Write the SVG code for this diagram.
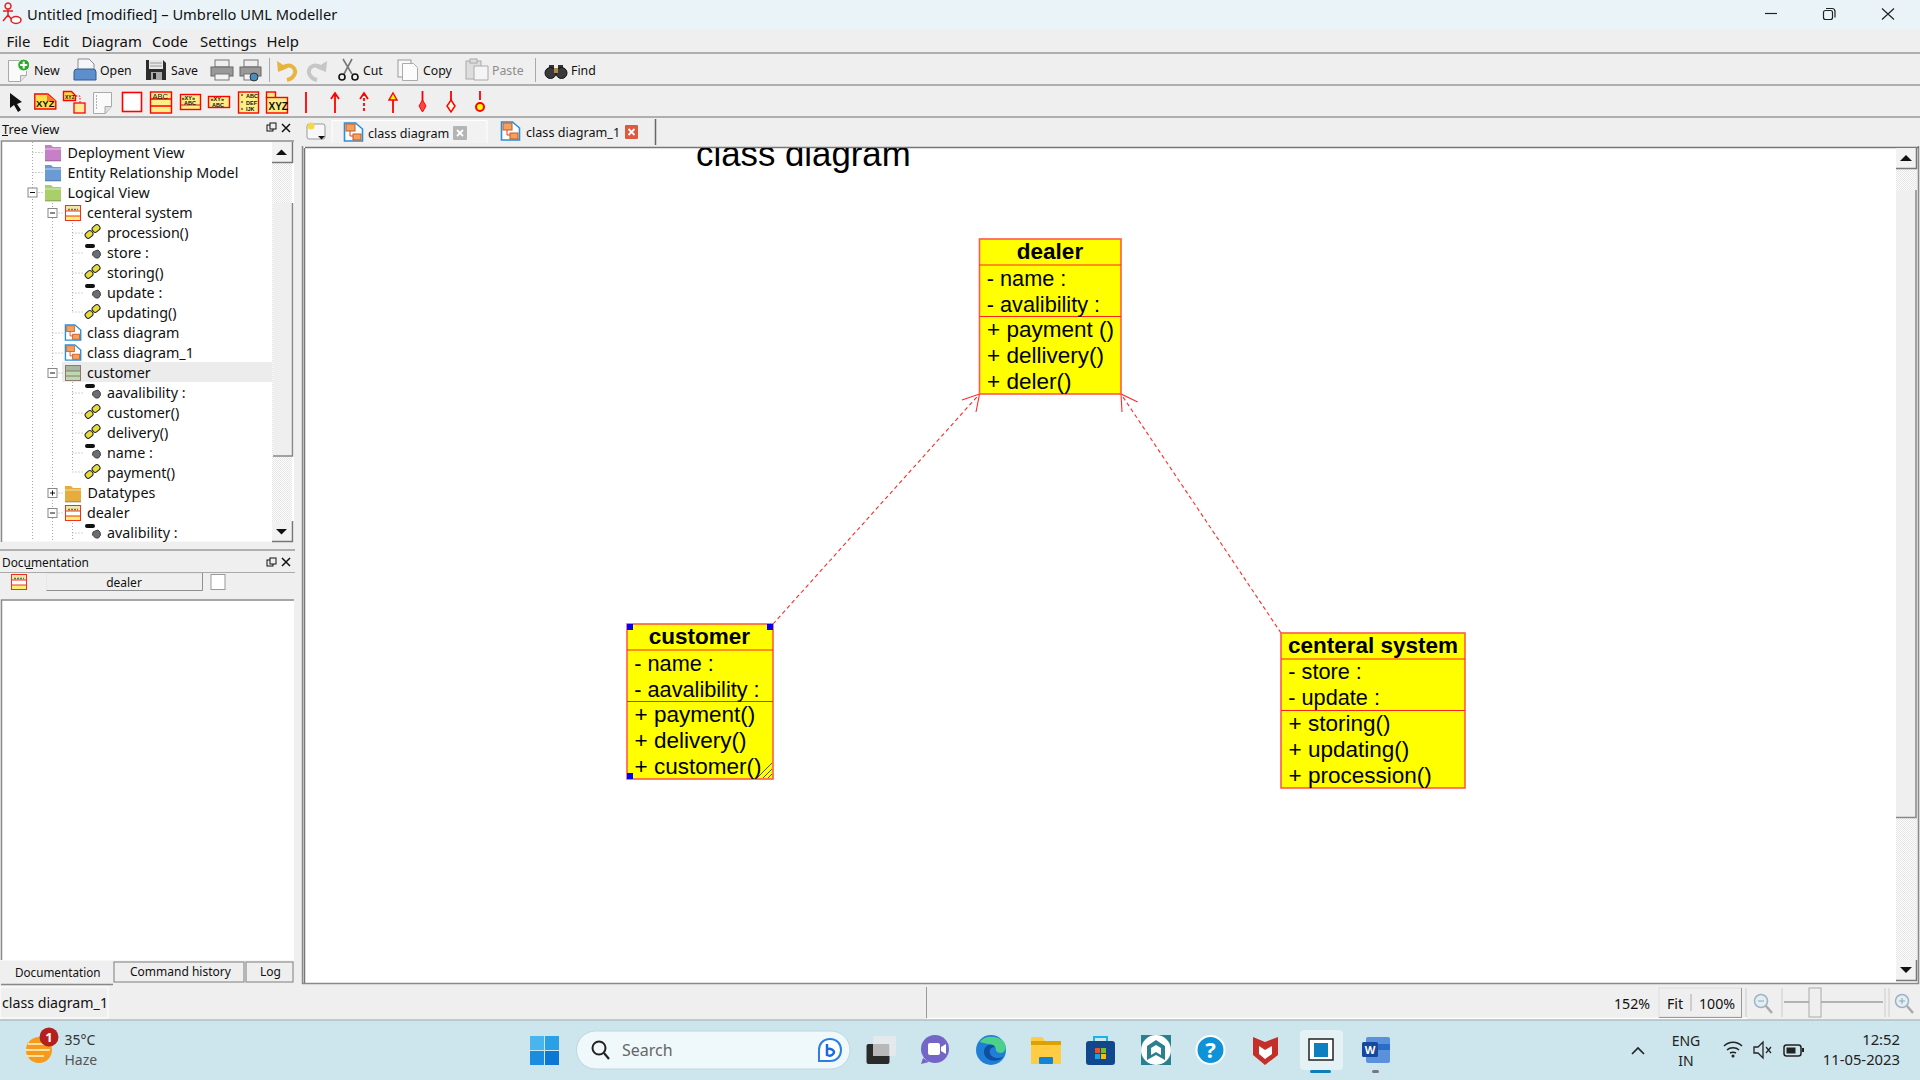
<svg xmlns="http://www.w3.org/2000/svg" xmlns:xlink="http://www.w3.org/1999/xlink" width="1920" height="1080" viewBox="0 0 1920 1080">
<style>
text{font-family:"Noto Sans","Open Sans","Liberation Sans",sans-serif;fill:#111;white-space:pre}
.m{font-size:14.900px}.tb{font-size:12.300px}.tr{font-size:14.300px}.sm{font-size:12px}.dis{fill:#8d8d8d}
.ln{stroke:#9a9a9a;stroke-width:1.500;fill:none}
.dot{stroke:#a8a8a8;stroke-width:1;stroke-dasharray:1 2;fill:none}
.ic{stroke:#f00;stroke-width:1.600;fill:#fff}
.ict{font-family:"Liberation Sans",sans-serif;font-weight:700;fill:#111}
.uml{font-family:"Liberation Sans",Arial,sans-serif;fill:#000}
.tt{font-size:22.500px;font-weight:700;text-anchor:middle}.at{font-size:21.700px}.op{font-size:22.500px}
.box{fill:#ff0;stroke:#ff5a4a;stroke-width:1.600}
.sep{stroke:#f22;stroke-width:1.200}
.h{fill:#00f}
.con{stroke:#ff2a2a;stroke-width:1.100;fill:none}
.btn{fill:#efefef;stroke:#8f8f8f;stroke-width:1.200}
.tray{font-size:15px;fill:#222}
</style>
<defs>
<pattern id="trough" width="2" height="2" patternUnits="userSpaceOnUse"><rect width="2" height="2" fill="#fff"/><rect width="1" height="1" fill="#e4e4e4"/><rect x="1" y="1" width="1" height="1" fill="#e4e4e4"/></pattern>
<g id="fold"><path d="M0 1h6l2 2h8v14H0z" fill="currentColor"/><path d="M0 5h16" stroke="#fff" stroke-opacity=".6"/><path d="M0 17h16" stroke="#000" stroke-opacity=".3"/></g>
<g id="cls"><rect x=".5" y=".5" width="15" height="15" fill="#fff" stroke="#f03020"/><rect x="1" y="1" width="14" height="5" fill="#f4e6a8"/><rect x="1" y="11" width="14" height="4" fill="#fff070"/><path d="M1 6h14M1 11h14" stroke="#f03020"/><path d="M3 4.500h10" stroke="#5a7a50" stroke-width="1.500" stroke-dasharray="2 1"/></g>
<g id="op"><rect x="0" y="-3" width="8" height="6" rx="2.500" transform="translate(1 13) rotate(-40)" fill="#e8dc3c" stroke="#222"/><rect x="0" y="-3" width="8" height="6" rx="2.500" transform="translate(8 7) rotate(-40)" fill="#e8dc3c" stroke="#222"/></g>
<g id="att"><rect x="0" y="0" width="10" height="4" rx="2" fill="#111"/><path d="M10 7l3-1 2 2 .5 3-2 3h-3l-3-3 .5-3z" fill="#6c6c74" stroke="#444"/></g>
<g id="dia"><path d="M.5 1h11l7 6v12H.5z" fill="#fff" stroke="#2a8fd8" stroke-width="1.600"/><rect x="2" y="2" width="9" height="7" fill="#f4a060" stroke="#c85a20"/><rect x="9" y="12" width="8" height="6" fill="#f4a060" stroke="#c85a20"/><path d="M6 9v5h3" stroke="#e04020" fill="none"/></g>
<g id="minus"><rect x="-4.500" y="-4.500" width="9" height="9" fill="#fff" stroke="#888"/><path d="M-2.500 0h5" stroke="#111"/></g>
<g id="plus"><rect x="-4.500" y="-4.500" width="9" height="9" fill="#fff" stroke="#888"/><path d="M-2.500 0h5M0-2.500v5" stroke="#111"/></g>
<g id="page"><path d="M.5.5h18v15l-6 6H.5z" fill="#fafafa" stroke="#aaa"/><path d="M12.500 21.500v-6h6" fill="#e4e4e4" stroke="#aaa"/></g>
<g id="btnv"><rect x="0" y="0" width="20" height="20" fill="#f2f2f2"/><path d="M0 20.500h20.500V0" fill="none" stroke="#777" stroke-width="1.500"/></g>
</defs>

<rect width="1920" height="1080" fill="#efefef"/>
<rect width="1920" height="29" fill="#eaf4f8"/>
<path d="M8 3a3 3 0 1 0 .1 0zM8 9v6M3 11h10M8 15l-5 6M8 15l5 6" stroke="#e02020" stroke-width="1.500" fill="none"/><ellipse cx="16" cy="20" rx="5" ry="3.400" fill="#fff" stroke="#e02020" stroke-width="1.500"/>
<text x="27" y="20" style="font-size:14.700px">Untitled [modified] – Umbrello UML Modeller</text>
<path d="M1765 13.500h12" stroke="#222" stroke-width="1.200"/><rect x="1823.500" y="10.500" width="9" height="9" rx="2" fill="none" stroke="#222" stroke-width="1.200"/><path d="M1826 8.500h6a3 3 0 0 1 3 3v6" fill="none" stroke="#222" stroke-width="1.200"/><path d="M1882 8.500l12 11M1894 8.500l-12 11" stroke="#222" stroke-width="1.200"/>

<text class="m" x="6.500" y="47">File</text><text class="m" x="42.500" y="47">Edit</text><text class="m" x="81.500" y="47">Diagram</text><text class="m" x="152" y="47">Code</text><text class="m" x="200" y="47">Settings</text><text class="m" x="266.500" y="47">Help</text>
<path class="ln" d="M0 53h1920M0 85h1920M0 117h1920"/>

<!-- toolbar 1 -->
<use xlink:href="#page" href="#page" x="8" y="60"/><circle cx="23.700" cy="65" r="6" fill="#2ea82e" stroke="#fff"/><path d="M23.700 61.500v7M20.200 65h7" stroke="#fff" stroke-width="2"/>
<text class="tb" x="34" y="75">New</text>
<path d="M78 59h11l5 5v8H78z" fill="#f6f6f6" stroke="#889"/><path d="M74 72q0-3 3-3h16q3 0 3 3v8H74z" fill="#5d8fcb" stroke="#2d5d98"/>
<text class="tb" x="100" y="75">Open</text>
<path d="M146 60h17l3 3v17h-20z" fill="#2c2c2c"/><rect x="149" y="60" width="14" height="9" fill="#e8e8e8"/><path d="M150 63h12M150 66h12" stroke="#999"/><rect x="151" y="72" width="11" height="8" fill="#aaa"/><rect x="153" y="73" width="3" height="6" fill="#222"/>
<text class="tb" x="171" y="75">Save</text>
<rect x="215" y="60" width="14" height="7" fill="#eee" stroke="#777"/><rect x="211" y="67" width="22" height="9" fill="#999" stroke="#666"/><rect x="215" y="74" width="14" height="6" fill="#f4f4f4" stroke="#777"/>
<rect x="244" y="60" width="14" height="7" fill="#eee" stroke="#777"/><rect x="240" y="67" width="21" height="9" fill="#999" stroke="#666"/><rect x="244" y="74" width="10" height="6" fill="#f4f4f4" stroke="#777"/><circle cx="254" cy="77" r="4" fill="#4a8ec0" stroke="#333"/>
<path d="M269.500 58v24" stroke="#aaa"/>
<path d="M282 68c8-6 14 0 13 5-1 4-4 6-8 7" fill="none" stroke="#e8b440" stroke-width="4"/><path d="M277 61l1 11 10-4z" fill="#e8b440"/>
<path d="M322 68c-8-6-14 0-13 5 1 4 4 6 8 7" fill="none" stroke="#c6c6c6" stroke-width="4"/><path d="M327 61l-1 11-10-4z" fill="#c6c6c6"/>
<path d="M343 59l9 15M352 59l-8 15" stroke="#777" stroke-width="1.600"/><circle cx="342" cy="77" r="3" fill="none" stroke="#111" stroke-width="1.600"/><circle cx="355" cy="77" r="3" fill="none" stroke="#111" stroke-width="1.600"/>
<text class="tb" x="363" y="75">Cut</text>
<rect x="398" y="60" width="13" height="17" fill="#f8f8f8" stroke="#999"/><path d="M402.500 63.500h11l4 4v13h-15z" fill="#fcfcfc" stroke="#aaa"/>
<text class="tb" x="423" y="75">Copy</text>
<rect x="466" y="61" width="15" height="18" fill="#ddd" stroke="#aaa"/><rect x="470" y="59" width="7" height="4" fill="#ddd" stroke="#aaa"/><path d="M474 66h14v14h-14z" fill="#f4f4f4" stroke="#aaa"/>
<text class="tb dis" x="492" y="75">Paste</text>
<path d="M535.500 58v24" stroke="#aaa"/>
<rect x="549" y="65" width="5" height="6" fill="#333"/><rect x="558" y="65" width="5" height="6" fill="#333"/><circle cx="550.500" cy="73" r="5.500" fill="#3a3a3a" stroke="#111"/><circle cx="561.500" cy="73" r="5.500" fill="#3a3a3a" stroke="#111"/><rect x="554" y="68" width="4" height="5" fill="#b08a50"/>
<text class="tb" x="571" y="75">Find</text>

<!-- toolbar 2 -->
<path d="M10 93l0 15 4-3 4 7 3-2-4-6 5-2z" fill="#111"/>
<path d="M34.800 94h13l8 7v8H34.800z" fill="#fbe04a" stroke="#f00" stroke-width="1.400"/><path d="M47 94l9 7h-9z" fill="#f28030"/><text class="ict" x="36" y="107" style="font-size:9.500px">XYZ</text>
<path d="M63.500 91.500h8l4 4v5h-12z" fill="#fbd74a" stroke="#f00" stroke-width="1.300"/><rect x="74" y="103" width="11" height="10" fill="#ffe99a" stroke="#f00" stroke-width="1.300"/><path d="M76 96h4v7" stroke="#f00" stroke-dasharray="1.500 1.500" fill="none"/><text class="ict" x="65" y="99" style="font-size:5px">XYZ</text>
<path d="M93.500 92.500h18v14l-6 7h-12z" fill="#fafafa" stroke="#aaa"/><path d="M96 96h1M96 99h1M96 102h1M96 105h1M96 108h1" stroke="#667"/><path d="M105 113.500v-7h6.500" fill="#ddd" stroke="#aaa"/>
<rect class="ic" x="122.500" y="92.500" width="19" height="19"/>
<rect x="150.500" y="92" width="21" height="21" fill="#ffee88" stroke="#f00" stroke-width="1.400"/><path d="M150 99h22M150 106h22" stroke="#f00" stroke-width="1.400"/><text x="152.500" y="98.500" style="font-size:7.500px;font-family:'Liberation Sans',sans-serif">ABC</text>
<rect x="180.500" y="94.500" width="20" height="15" fill="#ffee88" stroke="#f00" stroke-width="1.400"/><path d="M180 105h21" stroke="#f00"/><text class="ict" x="181.500" y="100" style="font-size:5.500px">«XY»</text><text class="ict" x="184" y="104.500" style="font-size:5.500px">ABC</text>
<rect x="208.500" y="96.500" width="21" height="11" fill="#ffee88" stroke="#f00" stroke-width="1.400"/><text class="ict" x="210.500" y="101" style="font-size:5.500px">«XY»</text><text class="ict" x="212" y="106.500" style="font-size:5.500px">ABC</text>
<rect x="238.500" y="92" width="20" height="21" fill="#ffee88" stroke="#f00" stroke-width="1.400"/><path d="M241 95h2M241 102h2M241 109h2" stroke="#111"/><text class="ict" x="246" y="98" style="font-size:5.500px">ABC</text><text class="ict" x="246" y="104.500" style="font-size:5.500px">DEF</text><text class="ict" x="246" y="111" style="font-size:5.500px">IJK</text>
<rect x="266.500" y="92" width="9" height="6" fill="#ffee88" stroke="#f00" stroke-width="1.400"/><rect x="266.500" y="97.500" width="21" height="15.500" fill="#ffee88" stroke="#f00" stroke-width="1.400"/><text class="ict" x="268.500" y="110" style="font-size:10px">XYZ</text>
<g stroke="#f00" stroke-width="1.800" fill="none"><path d="M306 92v21"/><path d="M335 93v20M331 99l4-6 4 6"/><path d="M364 93v20" stroke-dasharray="3 2"/><path d="M360 99l4-6 4 6"/><path d="M393 100v13"/><path d="M422.500 91v10M451 91v10M480 91v9"/></g>
<path d="M393 93l4 7h-8z" fill="#ff0" stroke="#f00" stroke-width="1.400"/><path d="M422.500 100l3.500 6-3.500 6-3.500-6z" fill="#f44" stroke="#f00"/><path d="M451 100l4 6-4 6-4-6z" fill="#ffd" stroke="#f00" stroke-width="1.500"/><circle cx="480" cy="107" r="4" fill="#ff0" stroke="#f00" stroke-width="2"/>

<!-- tree view -->
<text x="2" y="134" style="font-size:12.800px">Tree View</text><path d="M2 135.500h6" stroke="#111"/>
<rect x="267" y="125" width="6" height="6" fill="none" stroke="#111"/><rect x="270" y="123" width="6" height="6" fill="#efefef" stroke="#111"/><path d="M282 124l8 8M290 124l-8 8" stroke="#111" stroke-width="1.500"/>
<rect x="1" y="140.500" width="293" height="401" fill="#fff"/>
<path d="M1.500 542V141H294" fill="none" stroke="#8a8a8a" stroke-width="1.500"/>
<rect x="272" y="142" width="20" height="399" fill="url(#trough)"/>
<rect x="273" y="203" width="19" height="253" fill="#efefef"/><path d="M273 456h19.500V203" fill="none" stroke="#888" stroke-width="1.500"/>
<use xlink:href="#btnv" href="#btnv" x="272" y="142"/><path d="M276 155l5.500-5.500 5.500 5.500z" fill="#111"/>
<use xlink:href="#btnv" href="#btnv" x="272" y="521"/><path d="M276 529l5.500 5.500 5.500-5.500z" fill="#111"/>
<rect x="62" y="362" width="210" height="20" fill="#ececec"/>
<path class="dot" d="M32.500 142V540M32.500 152.500H44M32.500 172.500H44M32.500 192.500H44M52.500 203V540M52.500 213H64M52.500 333H64M52.500 353H64M52.500 373H64M52.500 493H64M52.500 513H64M72.500 223V312M72.500 233H84M72.500 253H84M72.500 273H84M72.500 293H84M72.500 312H84M72.500 382V472M72.500 393H84M72.500 413H84M72.500 433H84M72.500 453H84M72.500 472H84M72.500 523V540M72.500 533H84"/>
<use xlink:href="#fold" href="#fold" x="45" y="144" color="#c77fc7"/><use xlink:href="#fold" href="#fold" x="45" y="164" color="#6a9bd4"/><use xlink:href="#fold" href="#fold" x="45" y="184" color="#a9cf6a"/>
<use xlink:href="#minus" href="#minus" x="32.500" y="192.500"/><use xlink:href="#minus" href="#minus" x="52.500" y="213"/><use xlink:href="#minus" href="#minus" x="52.500" y="373"/><use xlink:href="#plus" href="#plus" x="52.500" y="493"/><use xlink:href="#minus" href="#minus" x="52.500" y="513"/>
<use xlink:href="#cls" href="#cls" x="65" y="205"/>
<use xlink:href="#dia" href="#dia" transform="translate(65 324) scale(.85)"/><use xlink:href="#dia" href="#dia" transform="translate(65 344) scale(.85)"/>
<g transform="translate(65 365)"><rect x=".5" y=".5" width="15" height="15" fill="#bcd9b0" stroke="#8a7a70"/><rect x="1" y="1" width="14" height="5" fill="#a8b8a0"/><path d="M1 6h14M1 11h14" stroke="#8a7a70"/></g>
<use xlink:href="#fold" href="#fold" x="65" y="485" color="#e6ac3c"/><use xlink:href="#cls" href="#cls" x="65" y="505"/>
<use xlink:href="#op" href="#op" x="85" y="224"/><use xlink:href="#att" href="#att" x="85" y="244"/><use xlink:href="#op" href="#op" x="85" y="264"/><use xlink:href="#att" href="#att" x="85" y="284"/><use xlink:href="#op" href="#op" x="85" y="304"/>
<use xlink:href="#att" href="#att" x="85" y="384"/><use xlink:href="#op" href="#op" x="85" y="404"/><use xlink:href="#op" href="#op" x="85" y="424"/><use xlink:href="#att" href="#att" x="85" y="444"/><use xlink:href="#op" href="#op" x="85" y="464"/><use xlink:href="#att" href="#att" x="85" y="524"/>
<text class="tr" x="67.500" y="158">Deployment View</text><text class="tr" x="67.500" y="178">Entity Relationship Model</text><text class="tr" x="67.500" y="198">Logical View</text>
<text class="tr" x="87" y="218">centeral system</text><text class="tr" x="107" y="238">procession()</text><text class="tr" x="107" y="258">store :</text><text class="tr" x="107" y="278">storing()</text><text class="tr" x="107" y="298">update :</text><text class="tr" x="107" y="318">updating()</text>
<text class="tr" x="87" y="338">class diagram</text><text class="tr" x="87" y="358">class diagram_1</text><text class="tr" x="87" y="378">customer</text>
<text class="tr" x="107" y="398">aavalibility :</text><text class="tr" x="107" y="418">customer()</text><text class="tr" x="107" y="438">delivery()</text><text class="tr" x="107" y="458">name :</text><text class="tr" x="107" y="478">payment()</text>
<text class="tr" x="87.500" y="498">Datatypes</text><text class="tr" x="87" y="518">dealer</text><text class="tr" x="107" y="538">avalibility :</text>

<!-- documentation -->
<path class="ln" d="M0 550h295"/><path d="M0 572.500h295" stroke="#aaa"/>
<text x="2" y="567" style="font-size:11.900px">Documentation</text><path d="M26 568.500h7" stroke="#111"/>
<rect x="267" y="560" width="6" height="6" fill="none" stroke="#111"/><rect x="270" y="558" width="6" height="6" fill="#efefef" stroke="#111"/><path d="M282 558l8 8M290 558l-8 8" stroke="#111" stroke-width="1.500"/>
<use xlink:href="#cls" href="#cls" x="11" y="574"/>
<rect x="46" y="573" width="156" height="17" fill="#efefef"/><path d="M46.500 590V573.500H202" fill="none" stroke="#e8e8e8"/><path d="M46.500 590.500h156V573" fill="none" stroke="#8f8f8f"/><text class="sm" x="124" y="587" text-anchor="middle">dealer</text>
<rect x="211" y="574.500" width="14" height="15" fill="#fff" stroke="#999"/>
<rect x="1" y="599.500" width="293" height="361" fill="#fff"/>
<path d="M1.500 960V600H294" fill="none" stroke="#8a8a8a" stroke-width="1.500"/>
<path d="M1 962h112v22H1z" fill="#efefef"/><path d="M1 984.500h112" stroke="#888" stroke-width="1.500"/>
<rect x="114" y="962" width="130" height="20" class="btn"/><rect x="246" y="962" width="47" height="20" class="btn"/>
<text x="15" y="977" style="font-size:11.700px">Documentation</text><text x="130" y="976" style="font-size:12px">Command history</text><text x="260" y="976" style="font-size:12px">Log</text>

<!-- tabs -->
<rect x="307" y="124" width="18" height="15" rx="2" fill="#f8f8f8" stroke="#999"/><circle cx="311" cy="126" r="3.500" fill="#f4d84a"/><path d="M318 136h7l-3.500 3.500z" fill="#111"/>
<path d="M332 143v-22.500h155V143" fill="#f2f2f2" stroke="#fff"/>
<use xlink:href="#dia" href="#dia" x="344" y="122"/><text x="368" y="138" style="font-size:12.600px">class diagram</text><rect x="453" y="126" width="14" height="14" rx="1" fill="#b4b4b4"/><path d="M457 130l6 6M463 130l-6 6" stroke="#fff" stroke-width="1.800"/>
<use xlink:href="#dia" href="#dia" x="501" y="121"/><text x="526" y="137" style="font-size:12.600px">class diagram_1</text><rect x="625" y="125" width="13" height="14" rx="1" fill="#dd5a40"/><path d="M628.500 129l6 6M634.500 129l-6 6" stroke="#fff" stroke-width="1.800"/>
<path d="M655.500 119v26" stroke="#666" stroke-width="1.500"/>

<!-- canvas -->
<rect x="304" y="147" width="1612" height="836" fill="#fff"/>
<path d="M302.500 146v838M302 983.500h1617M1918.500 146v838" fill="none" stroke="#8a8a8a" stroke-width="1.500"/>
<path d="M305 147.500h1614M304.500 148v835" stroke="#777" fill="none" stroke-width="1.500"/>
<rect x="1896" y="148" width="20" height="833" fill="url(#trough)"/>
<rect x="1896" y="190.500" width="20" height="627" fill="#efefef"/><path d="M1896 817.500h20V190" fill="none" stroke="#888" stroke-width="1.500"/>
<use xlink:href="#btnv" href="#btnv" x="1896" y="148"/><path d="M1900 161l6-6 6 6z" fill="#111"/>
<use xlink:href="#btnv" href="#btnv" x="1896" y="960"/><path d="M1900 967l6 6 6-6z" fill="#111"/>
<clipPath id="cv"><rect x="304" y="148" width="1592" height="835"/></clipPath>
<text class="uml" clip-path="url(#cv)" x="696" y="166" style="font-size:34.800px">class diagram</text>

<g id="connectors">
<path class="con" stroke-dasharray="4 3" d="M773 624L979.500 394"/>
<path class="con" stroke-dasharray="4 3" d="M1281 633L1121 394"/>
<path class="con" d="M962 400L979.500 394L976 412"/>
<path class="con" d="M1137.700 402L1121 394L1122 412"/>
</g>

<g id="dealer">
<rect class="box" x="979.500" y="239" width="141.500" height="155"/>
<path class="sep" d="M979.500 265h141.500M979.500 316.500h141.500"/>
<text class="uml tt" x="1050" y="259">dealer</text>
<text class="uml at" x="986.800" y="285.500">- name :</text><text class="uml at" x="986.800" y="311.500">- avalibility :</text>
<text class="uml op" x="987" y="337">+ payment ()</text><text class="uml op" x="987" y="363">+ dellivery()</text><text class="uml op" x="987" y="389">+ deler()</text>
</g>
<g id="customer">
<rect class="box" x="627" y="624" width="146" height="155"/>
<path class="sep" d="M627 650h146M627 701.500h146"/>
<text class="uml tt" x="699.500" y="644">customer</text>
<text class="uml at" x="634.300" y="670.500">- name :</text><text class="uml at" x="634.300" y="696.500">- aavalibility :</text>
<text class="uml op" x="634.500" y="722">+ payment()</text><text class="uml op" x="634.500" y="748">+ delivery()</text><text class="uml op" x="634.500" y="773.500">+ customer()</text>
<path d="M757 778l15-15M763 778l9-9M768 778l4-4" stroke="#222" stroke-width=".8" fill="none"/>
<rect class="h" x="627" y="624" width="6" height="6"/><rect class="h" x="767" y="624" width="6" height="6"/><rect class="h" x="627" y="773" width="6" height="6"/>
</g>
<g id="centeral_system">
<rect class="box" x="1281" y="633" width="184" height="155"/>
<path class="sep" d="M1281 659h184M1281 710.500h184"/>
<text class="uml tt" x="1373" y="653">centeral system</text>
<text class="uml at" x="1288.300" y="679">- store :</text><text class="uml at" x="1288.300" y="705">- update :</text>
<text class="uml op" x="1288.500" y="731">+ storing()</text><text class="uml op" x="1288.500" y="757">+ updating()</text><text class="uml op" x="1288.500" y="783">+ procession()</text>
</g>

<!-- status bar -->
<rect x="0" y="987" width="108" height="31" fill="#efefef" stroke="#fff"/>
<text x="2" y="1008" style="font-size:14.200px">class diagram_1</text>
<path d="M926.500 987v31" stroke="#999"/><path d="M927 1018.500h820" stroke="#fff" stroke-width="1.500"/>
<text x="1614" y="1009" style="font-size:14.200px">152%</text>
<rect x="1659" y="988" width="82.500" height="29" fill="#efefef" stroke="#ddd"/><path d="M1691 994v17" stroke="#aaa"/><path d="M1659 1017.500h83M1741.500 988v30" stroke="#999"/>
<text x="1667" y="1009" style="font-size:14.200px">Fit</text><text x="1699" y="1009" style="font-size:14.200px">100%</text>
<path d="M1746 988v29M1782 988v29M1885 988v29M1889 988v29" stroke="#ccc"/>
<g fill="#e4edf4" stroke="#9fb2c5" stroke-width="1.500"><circle cx="1761" cy="1001" r="6.500"/><circle cx="1902" cy="1001" r="6.500"/></g>
<path d="M1766 1006l6 7M1907 1006l6 7" stroke="#aaa" stroke-width="2.500"/><path d="M1758 1001h6M1899 1001h6M1902 998v6" stroke="#8aa"/>
<path d="M1784 1002h25M1821 1002h62" stroke="#777" stroke-width="1.200"/><rect x="1809" y="988" width="12" height="29" fill="#efefef" stroke="#aaa"/>

<!-- taskbar -->
<rect y="1020" width="1920" height="60" fill="#cde6ed"/><path d="M0 1020h1920" stroke="#aebfc5" stroke-width="1.500"/>
<circle cx="39" cy="1050" r="13" fill="#f59a1a"/><path d="M26 1050h24M28 1044h20M26 1056h18" stroke="#ffe0a0" stroke-width="2"/>
<circle cx="49" cy="1037" r="9.500" fill="#b3201f"/><text x="49" y="1042" text-anchor="middle" style="font-size:13px;font-weight:700;fill:#fff">1</text>
<text x="64.500" y="1045" style="font-size:14px;fill:#333">35°C</text><text x="64.500" y="1065" style="font-size:14px;fill:#555">Haze</text>
<g><rect x="530" y="1036" width="14" height="14" fill="#48b5ee"/><rect x="545" y="1036" width="14" height="14" fill="#2aa0e6"/><rect x="530" y="1051" width="14" height="14" fill="#1a8de0"/><rect x="545" y="1051" width="14" height="14" fill="#0a78d4"/></g>
<rect x="576.500" y="1031" width="273.500" height="38" rx="19" fill="#eff8fb" stroke="#bfd6dc"/>
<circle cx="599" cy="1048" r="6.500" fill="none" stroke="#222" stroke-width="2"/><path d="M604 1053l5 6" stroke="#222" stroke-width="2.200"/>
<text x="622" y="1056" style="font-size:16px;fill:#666">Search</text>
<path d="M830 1039c7 0 11 5 11 11s-4 11-11 11h-11v-11c0-6 4-11 11-11z" fill="#fff" stroke="#2a7fe0" stroke-width="2"/><path d="M827 1044v11c4 2 7-1 7-3s-4-4-6-3" stroke="#1a6adf" stroke-width="2.500" fill="none"/>
<rect x="866.500" y="1044" width="23" height="20" rx="2" fill="#2a2a2a"/><rect x="873" y="1036" width="23" height="20" rx="2" fill="#e8eaea" fill-opacity=".85"/><rect x="873" y="1044" width="16" height="12" fill="#b8b8b8"/>
<circle cx="935" cy="1049" r="14" fill="#7466c6"/><path d="M923 1058l-2 6 8-2z" fill="#7466c6"/><rect x="928" y="1043" width="12" height="12" rx="2" fill="#fff"/><path d="M941 1047l5-3v10l-5-3z" fill="#fff"/>
<circle cx="991" cy="1050" r="15" fill="#1f7fd6"/><path d="M980 1042c4-7 18-7 24 0 3 4 2 10-3 11-4 0-6-3-5-5-3-4-10-4-16-6z" fill="#4cd08c"/><path d="M984 1052c0-7 8-10 11-5-4 0-6 3-5 6 1 5 8 6 13 4-4 6-19 5-19-5z" fill="#0f4fa0"/>
<path d="M1031 1037h11l3 4h16v23h-30z" fill="#ffcc44"/><path d="M1031 1041h30v4h-30z" fill="#dda200"/><rect x="1039" y="1057" width="14" height="7" rx="1" fill="#1484d6"/>
<rect x="1086" y="1041" width="29" height="24" rx="3" fill="#11478c"/><path d="M1094 1041v-4h13v4" fill="none" stroke="#1ab4e8" stroke-width="2"/><rect x="1095" y="1048" width="5" height="5" fill="#e8502a"/><rect x="1101" y="1048" width="5" height="5" fill="#7fba28"/><rect x="1095" y="1054" width="5" height="5" fill="#1ca0e8"/><rect x="1101" y="1054" width="5" height="5" fill="#fdb812"/>
<rect x="1141" y="1035" width="30" height="30" fill="#2b8090"/><ellipse cx="1156" cy="1050" rx="15" ry="15" fill="#fff"/><path d="M1156 1040l9 6v14l-9-5-9 5v-14z" fill="#2b8090"/><path d="M1156 1045l5 3v7l-5-3-5 3v-7z" fill="#fff"/>
<circle cx="1210.500" cy="1050" r="14" fill="#0f93d8" stroke="#fff" stroke-width="2"/><text x="1210.500" y="1058" text-anchor="middle" style="font-size:22px;font-weight:700;fill:#fff">?</text>
<path d="M1253 1037l12 5 13-5v18l-13 10-12-10z" fill="#c3302a"/><path d="M1259 1046l6 4 7-4v8l-7 5-6-5z" fill="#fff"/>
<rect x="1300" y="1030" width="43" height="40" rx="4" fill="#e4f1f5"/>
<rect x="1309" y="1039" width="24" height="21" fill="#fff" stroke="#222" stroke-width="1.500"/><rect x="1314" y="1043" width="14" height="14" fill="#0f7fc0"/>
<rect x="1310" y="1070" width="21" height="3" rx="1.500" fill="#0d7fb8"/>
<g transform="translate(3 0)"><rect x="1363" y="1037" width="24" height="26" rx="2" fill="#5a90dc"/><rect x="1363" y="1044" width="24" height="6" fill="#2b6cc4"/><rect x="1359" y="1042" width="16" height="15" rx="1.500" fill="#16489e"/><text x="1367" y="1054" text-anchor="middle" style="font-size:11px;font-weight:700;fill:#fff">W</text></g>
<rect x="1372" y="1070" width="7" height="3" rx="1.500" fill="#778"/>
<path d="M1632 1054l6-6 6 6" fill="none" stroke="#222" stroke-width="1.600"/>
<text class="tray" x="1686" y="1046" text-anchor="middle" style="font-size:14px">ENG</text><text class="tray" x="1686" y="1066" text-anchor="middle" style="font-size:14px">IN</text>
<path d="M1724 1046c5-5 13-5 18 0M1727 1050c3-3 9-3 12 0M1730 1053c2-1 4-1 6 0" fill="none" stroke="#222" stroke-width="1.500"/><circle cx="1733" cy="1056" r="1.500" fill="#222"/>
<path d="M1754 1047h4l5-5v16l-5-5h-4z" fill="none" stroke="#222" stroke-width="1.300"/><path d="M1766 1047l5 6M1771 1047l-5 6" stroke="#222" stroke-width="1.200"/>
<rect x="1784" y="1045" width="17" height="11" rx="2.500" fill="none" stroke="#222" stroke-width="1.500"/><rect x="1786.500" y="1047.500" width="9" height="6" fill="#222"/><rect x="1802" y="1048" width="2" height="4" fill="#222"/>
<text class="tray" x="1900" y="1045" text-anchor="end" style="font-size:14.800px">12:52</text><text class="tray" x="1900" y="1065" text-anchor="end" style="font-size:14.800px">11-05-2023</text>
</svg>
